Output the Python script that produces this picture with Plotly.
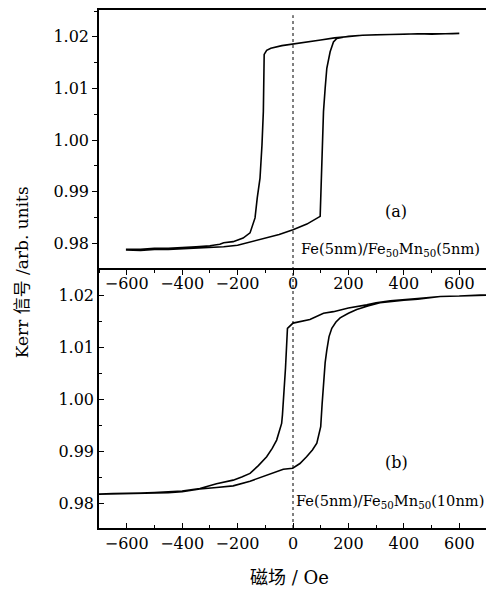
import plotly.graph_objects as go

# ---- data ----
x_ticks = [-600, -400, -200, 0, 200, 400, 600]
x_tick_labels = ["−600", "−400", "−200", "0", "200", "400", "600"]
y_ticks = [0.98, 0.99, 1.00, 1.01, 1.02]
y_tick_labels = ["0.98", "0.99", "1.00", "1.01", "1.02"]

# panel (a): Fe(5nm)/Fe50Mn50(5nm)
a_down_field = [600, 550, 500, 450, 400, 350, 300, 250, 200, 150, 100, 50, 0, -40, -80, -95,
                -104, -107, -112, -119, -129, -137, -155, -180, -216, -250, -264, -300, -350,
                -400, -450, -500, -550, -600]
a_down_kerr = [1.0206, 1.0206, 1.0207, 1.0206, 1.0205, 1.0205, 1.0204, 1.0203, 1.0201, 1.0198,
               1.0194, 1.0190, 1.0187, 1.0183, 1.0178, 1.0174, 1.0166, 1.0055, 0.9990, 0.9926,
               0.9888, 0.9849, 0.9820, 0.9810, 0.9803, 0.9801, 0.9798, 0.9795, 0.9793, 0.9791,
               0.9790, 0.9790, 0.9788, 0.9788]
a_up_field = [-600, -550, -500, -450, -400, -350, -300, -250, -200, -150, -100, -50, 0, 50, 98,
              100, 104, 110, 116, 122, 134, 146, 158, 200, 250, 300, 350, 400, 450, 500, 550, 600]
a_up_kerr = [0.9787, 0.9786, 0.9788, 0.9788, 0.9789, 0.9790, 0.9791, 0.9793, 0.9796, 0.9803,
             0.9809, 0.9817, 0.9826, 0.9837, 0.9852, 0.9888, 0.9980, 1.0055, 1.0100, 1.0139,
             1.0171, 1.0190, 1.0197, 1.0201, 1.0203, 1.0204, 1.0205, 1.0205, 1.0206, 1.0205,
             1.0206, 1.0207]

# panel (b): Fe(5nm)/Fe50Mn50(10nm)
b_down_field = [720, 676, 600, 531, 450, 351, 300, 266, 200, 146, 110, 61, 0, -20, -27, -33,
                -38, -41, -50, -59, -75, -95, -125, -155, -185, -216, -276, -336, -400, -450,
                -500, -550, -600, -650, -720]
b_down_kerr = [1.0200, 1.0200, 1.0198, 1.0197, 1.0193, 1.0189, 1.0185, 1.0181, 1.0175, 1.0168,
               1.0165, 1.0153, 1.0146, 1.0136, 1.0060, 1.0000, 0.9970, 0.9953, 0.9935, 0.9921,
               0.9905, 0.9889, 0.9872, 0.9857, 0.9850, 0.9844, 0.9837, 0.9828, 0.9823, 0.9821,
               0.9820, 0.9819, 0.9819, 0.9818, 0.9817]
b_up_field = [-720, -650, -600, -550, -500, -450, -400, -336, -276, -216, -155, -95, -60, -35,
              -1, 25, 49, 70, 86, 100, 105, 110, 116, 122, 130, 140, 155, 170, 200, 230, 270,
              314, 360, 400, 450, 531, 600, 676, 720]
b_up_kerr = [0.9817, 0.9818, 0.9818, 0.9819, 0.9819, 0.9820, 0.9822, 0.9827, 0.9830, 0.9833,
             0.9842, 0.9854, 0.9860, 0.9865, 0.9867, 0.9876, 0.9889, 0.9902, 0.9915, 0.9947,
             0.9990, 1.0037, 1.0070, 1.0094, 1.0120, 1.0136, 1.0148, 1.0156, 1.0165, 1.0172,
             1.0179, 1.0185, 1.0188, 1.0190, 1.0192, 1.0197, 1.0198, 1.0200, 1.0200]

FONT = "'DejaVu Serif', 'Noto Sans CJK SC', serif"
LINE = dict(color="black", width=1.6)

fig = go.Figure()
fig.add_trace(go.Scatter(x=a_down_field + a_up_field, y=a_down_kerr + a_up_kerr,
                         mode="lines", line=LINE, xaxis="x", yaxis="y", showlegend=False))
fig.add_trace(go.Scatter(x=b_down_field + b_up_field, y=b_down_kerr + b_up_kerr,
                         mode="lines", line=LINE, xaxis="x2", yaxis="y2", showlegend=False))

split = 0.502
tickfont = dict(family=FONT, size=16, color="black")
common_x = dict(range=[-700, 700], tickvals=x_ticks, ticktext=x_tick_labels,
                showline=True, linecolor="black", linewidth=1.5,
                showgrid=False, zeroline=False, tickfont=tickfont,
                ticklen=5, tickwidth=1.2, tickcolor="black")
common_y = dict(range=[0.9752, 1.0252], tickvals=y_ticks, ticktext=y_tick_labels,
                showline=True, linecolor="black", linewidth=1.5, mirror=True,
                showgrid=False, zeroline=False, tickfont=tickfont,
                ticklen=5, tickwidth=1.2, tickcolor="black")
x_minor = dict(dtick=100, tick0=0, ticklen=3, tickwidth=1, tickcolor="black")
y_minor = dict(dtick=0.005, tick0=0.98, ticklen=3, tickwidth=1, tickcolor="black")

# the page body keeps an 8px margin, so the figure is offset by 8px
fig.update_layout(
    width=486, height=583,
    margin=dict(l=91, r=7, t=0, b=63),
    paper_bgcolor="white", plot_bgcolor="white",
    xaxis=dict(common_x, domain=[0, 1], anchor="y", ticks="outside", mirror=True,
               ticklabelstandoff=-5, minor=dict(x_minor, ticks="outside")),
    yaxis=dict(common_y, domain=[split, 1], anchor="x", ticks="outside",
               minor=dict(y_minor, ticks="outside")),
    xaxis2=dict(common_x, domain=[0, 1], anchor="y2", ticks="inside", mirror=False,
                minor=dict(x_minor, ticks="inside")),
    yaxis2=dict(common_y, domain=[0, split], anchor="x2", ticks="inside",
                minor=dict(y_minor, ticks="inside")),
    font=dict(family=FONT, color="black"),
)

# dotted zero-field line through both panels
fig.add_shape(type="line", xref="x", yref="paper", x0=0, x1=0, y0=0, y1=0.99,
              line=dict(color="black", width=1, dash="dot"))

fig.add_annotation(text="(a)", xref="x", yref="y", x=372, y=0.9862, showarrow=False,
                   font=dict(family=FONT, size=16, color="black"))
fig.add_annotation(text="Fe(5nm)/Fe<sub>50</sub>Mn<sub>50</sub>(5nm)", xref="paper", yref="y",
                   x=0.988, y=0.9788, xanchor="right", showarrow=False,
                   font=dict(family=FONT, size=14.6, color="black"))
fig.add_annotation(text="(b)", xref="x2", yref="y2", x=372, y=0.9877, showarrow=False,
                   font=dict(family=FONT, size=16, color="black"))
fig.add_annotation(text="Fe(5nm)/Fe<sub>50</sub>Mn<sub>50</sub>(10nm)", xref="paper", yref="y2",
                   x=0.997, y=0.9802, xanchor="right", showarrow=False,
                   font=dict(family=FONT, size=14.6, color="black"))

fig.add_annotation(text="Kerr 信号 /arb. units", xref="paper", yref="paper",
                   x=-0.198, y=0.494, textangle=-90, showarrow=False,
                   xanchor="center", yanchor="middle",
                   font=dict(family=FONT, size=17, color="black"))
fig.add_annotation(text="磁场 / Oe", xref="paper", yref="paper",
                   x=0.492, y=-0.096, showarrow=False, xanchor="center", yanchor="middle",
                   font=dict(family=FONT, size=18, color="black"))

fig.write_html("out.html")
